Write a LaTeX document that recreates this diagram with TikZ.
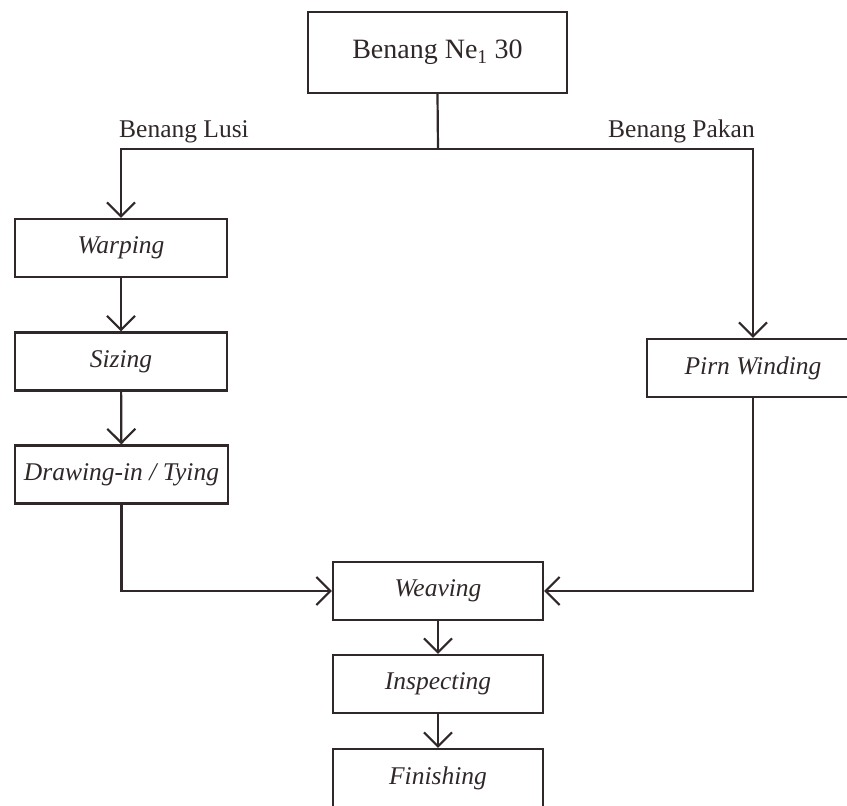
\documentclass[tikz,border=0pt]{standalone}
\usepackage{fontspec}
\setmainfont{Liberation Serif}
\usetikzlibrary{arrows.meta}
\definecolor{ink}{RGB}{48,40,40}
\begin{document}
\begin{tikzpicture}[x=1pt,y=-1pt,
  box/.style={draw=ink, line width=2.2pt, minimum width=212pt, minimum height=58pt, inner sep=0pt, text=ink, font=\fontsize{25.5}{30}\selectfont\itshape},
  conn/.style={draw=ink, line width=2.2pt},
  arr/.style={conn, -{Straight Barb[length=14pt,width=28pt,line width=2.2pt]}},
  lbl/.style={text=ink, font=\fontsize{25.5}{30}\selectfont, inner sep=0pt}]
\useasboundingbox (0,0) rectangle (847,806);
\begin{scope}
\clip (0,0) rectangle (847,806);
\node[box, minimum width=259pt, minimum height=81pt, font=\fontsize{28}{32}\selectfont] (top) at (437.5,52.5) {Benang Ne\textsubscript{1} 30};
\node[box] (warp) at (121,248) {Warping};
\node[box] (size) at (121,361.5) {Sizing};
\node[box, minimum width=213pt] (drw) at (121.5,474.5) {Drawing-in / Tying};
\node[box] (pirn) at (753,368) {Pirn Winding};
\node[box, minimum width=210pt] (weav) at (438,591) {Weaving};
\node[box, minimum width=210pt] (insp) at (438,684) {Inspecting};
\node[box, minimum width=210pt] (fin) at (438,778) {Finishing};
\coordinate (j) at (438,149);
\coordinate (jl) at (121,149);
\coordinate (jr) at (753,149);
\node[lbl, anchor=base west] (lusi) at (119,137) {Benang Lusi};
\node[lbl, anchor=base east] (pakan) at (755,137) {Benang Pakan};
\draw[conn] (top.south) -- (j);
\draw[conn, line cap=rect] (jl) -- (jr);
\draw[arr] (jl) -- (warp.north);
\draw[arr] (jr) -- (pirn.north);
\draw[arr] (warp) -- (size);
\draw[arr] (size) -- (drw);
\draw[arr] (drw.south) |- (weav.west);
\draw[arr] (pirn.south) |- (weav.east);
\draw[arr] (weav) -- (insp);
\draw[arr] (insp) -- (fin);
\end{scope}
\end{tikzpicture}
\end{document}
